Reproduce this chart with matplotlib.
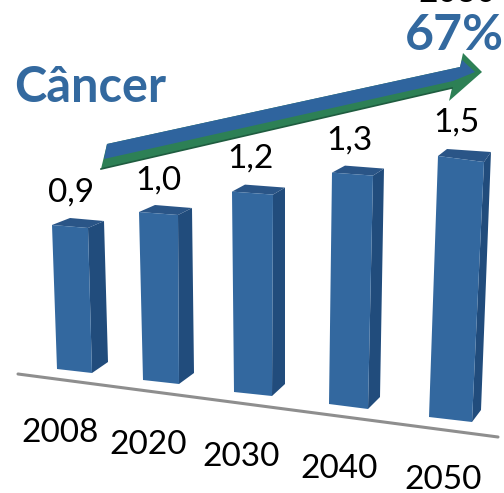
import matplotlib
matplotlib.use("Agg")
import matplotlib.pyplot as plt
from matplotlib.patches import Polygon

years = ["2008", "2020", "2030", "2040", "2050"]
values = [0.9, 1.0, 1.2, 1.3, 1.5]
value_labels = ["0,9", "1,0", "1,2", "1,3", "1,5"]

# perspective layout (pixel space), separate from the data
base_left = [(57, 369), (143, 380), (234, 392), (329, 404), (429, 417)]
base_right = [(92, 373), (179, 384), (272, 396), (368, 409), (472, 422)]
base_side = [(108, 362), (194, 373), (285, 384), (380, 397), (481, 410)]
top_left_x = [52, 139, 232, 332, 438]
top_right_x = [88, 178, 273, 373, 484]
top_side_x = [104, 192, 285, 384, 491]
back_offset = [18, 16, 13, 13, 9]
top_slant = [3, 3, 3, 3, 6]
px_per_unit = [160, 168, 167, 178, 174]
label_pos = [(71, 193), (158, 181), (251, 159), (349, 141), (456, 123)]
year_pos = [(60, 433), (148, 445), (241, 457), (339, 469), (443, 480)]

FRONT, SIDE, TOP = "#33689F", "#214C7C", "#2A5587"
BLUE_TXT = "#33699F"

fig = plt.figure(figsize=(5.04, 4.93), dpi=100)
ax = fig.add_axes([0, 0, 1, 1])
ax.set_xlim(0, 504)
ax.set_ylim(493, 0)
ax.axis("off")
font = "Lato"

ax.plot([18, 498], [374, 437], color="#8E8E8E", lw=2.2, solid_capstyle="round", zorder=1)

for i, v in enumerate(values):
    h = v * px_per_unit[i]
    ytl = base_left[i][1] - h
    ytr = ytl + top_slant[i]
    yts = ytl - 4
    ytb = ytl - 7
    front = [(top_left_x[i], ytl), (top_right_x[i], ytr), base_right[i], base_left[i]]
    side = [(top_right_x[i], ytr), (top_side_x[i], yts), base_side[i], base_right[i]]
    top = [(top_left_x[i], ytl), (top_left_x[i] + back_offset[i], ytb),
           (top_side_x[i], yts), (top_right_x[i], ytr)]
    ax.add_patch(Polygon(side, closed=True, fc=SIDE, ec="none", zorder=2))
    ax.add_patch(Polygon(top, closed=True, fc=TOP, ec="none", zorder=2))
    ax.add_patch(Polygon(front, closed=True, fc=FRONT, ec="none", zorder=3))
    ax.text(*label_pos[i], value_labels[i], fontsize=24, family=font, color="black",
            ha="center", va="center", zorder=5)
    ax.text(*year_pos[i], years[i], fontsize=24, family=font, color="black",
            ha="center", va="center", zorder=5)

# rising arrow: green body with blue upper face and a dark lower rim
green = [(107, 144), (460, 67), (463, 53), (482, 72), (449, 101), (452, 88), (101, 169)]
blue = [(107, 144), (460, 67), (462, 60), (475, 72), (453, 81), (104, 159)]
ax.add_patch(Polygon(green, closed=True, fc="#2D8055", ec="none", zorder=4))
ax.add_patch(Polygon(blue, closed=True, fc="#2F649E", ec="none", zorder=4))
ax.plot([101, 452], [169, 88], color="#1F5C40", lw=1.2, zorder=4)

ax.text(90, 88, "Câncer", fontsize=35, fontweight="bold", family=font, color=BLUE_TXT,
        ha="center", va="center", zorder=5)
ax.text(454, 35, "67%", fontsize=36, fontweight="bold", family=font, color=BLUE_TXT,
        ha="center", va="center", zorder=5)
ax.text(457, -7, "2030", fontsize=24, family=font, color="black",
        ha="center", va="center", zorder=5, clip_on=True)

fig.savefig("out.png", dpi=100)
